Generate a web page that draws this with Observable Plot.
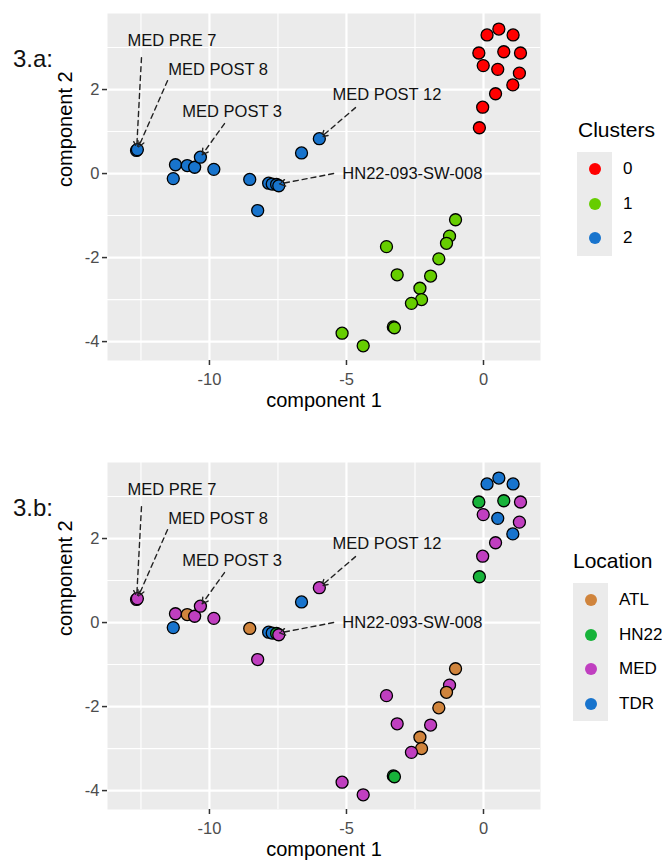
<!DOCTYPE html>
<html><head><meta charset="utf-8">
<script src="https://cdn.jsdelivr.net/npm/d3@7"></script>
<script src="https://cdn.jsdelivr.net/npm/@observablehq/plot@0.6"></script>
<style>
html,body{margin:0;padding:0;background:#fff;overflow:hidden;}
body{width:662px;height:864px;position:relative;font-family:"Liberation Sans",Arial,Helvetica,sans-serif;color:#000;}
.sec{position:absolute;left:0;width:662px;height:449px;overflow:hidden;}
.sec svg{position:absolute;left:0;top:0;}
.tag{position:absolute;left:13px;top:47px;font-size:24px;line-height:1;color:#111;white-space:nowrap;}
.ltitle{position:absolute;font-size:21px;line-height:1;white-space:nowrap;}
.keys{position:absolute;width:35px;background:#EBEBEB;}
.row{position:absolute;height:34px;line-height:34px;font-size:17px;white-space:nowrap;}
.dotk{position:absolute;width:12px;height:12px;border-radius:50%;}
</style></head><body>
<script>
// ---- data ----
const comp1 = [-12.66,-12.63,-11.32,-11.24,-10.81,-10.54,-10.33,-9.84,-8.53,-8.24,-7.84,-7.71,-7.55,-7.47,-6.64,-5.99,
  -1.02,-1.24,-1.35,-1.63,-3.54,-3.15,-1.93,-2.32,-2.26,-2.63,-3.29,-3.25,-5.16,-4.39,
  0.56,0.13,1.08,-0.17,0.74,1.35,-0.01,0.52,1.31,1.07,0.44,-0.03,-0.15];
const comp2 = [0.55,0.57,-0.12,0.21,0.19,0.15,0.39,0.10,-0.14,-0.88,-0.23,-0.25,-0.26,-0.29,0.49,0.83,
  -1.10,-1.49,-1.66,-2.03,-1.74,-2.41,-2.44,-2.73,-3.00,-3.09,-3.65,-3.67,-3.80,-4.10,
  3.44,3.30,3.30,2.87,2.90,2.87,2.57,2.48,2.39,2.11,1.90,1.58,1.09];
const clusterOf = ["2","2","2","2","2","2","2","2","2","2","2","2","2","2","2","2",
  "1","1","1","1","1","1","1","1","1","1","1","1","1","1",
  "0","0","0","0","0","0","0","0","0","0","0","0","0"];
const siteOf = ["MED","MED","TDR","MED","ATL","MED","MED","MED","ATL","MED","TDR","TDR","HN22","MED","TDR","MED",
  "ATL","MED","ATL","ATL","MED","MED","MED","ATL","ATL","MED","HN22","HN22","MED","MED",
  "TDR","TDR","TDR","HN22","HN22","MED","MED","TDR","MED","TDR","MED","MED","HN22"];

const clusterCats = ["0","1","2"];
const clusterColors = ["#FF0000","#66CD00","#1874CD"];
const siteCats = ["ATL","HN22","MED","TDR"];
const siteColors = ["#D0843C","#17B33A","#C03FC0","#1874CD"];

// labelled samples (ggrepel-style label positions, in data units)
const labelName = ["MED PRE 7","MED POST 8","MED POST 3","MED POST 12","HN22-093-SW-008"];
const labelPoint = [0,1,6,15,12];
const labelX = [-12.99,-11.50,-10.99,-5.51,-5.15];
const labelY = [3.17,2.48,1.48,1.88,0.0];
const segX = [-12.48,-11.53,-9.45,-4.67,-5.47];
const segY = [2.76,2.21,1.19,1.57,0.0];

const xDomain = [-13.72, 2.08];
const yDomain = [-4.45, 3.81];
const xMajor = [-10,-5,0];
const xMinor = [-12.5,-7.5,-2.5];
const yMajor = [-4,-2,0,2];
const yMinor = [-3,-1,1,3];
const xTitle = "component 1";
const yTitle = "component 2";

const FONT = "'Liberation Sans', Arial, Helvetica, sans-serif";

function panel(field, cats, colors) {
  const data = comp1.map((x, i) => ({x, y: comp2[i], c: field[i]}));
  const labels = labelName.map((n, i) => ({
    n, lx: labelX[i], ly: labelY[i], sx: segX[i], sy: segY[i],
    px: comp1[labelPoint[i]], py: comp2[labelPoint[i]]
  }));
  return Plot.plot({
    width: 662, height: 417,
    marginLeft: 107, marginRight: 122, marginTop: 13, marginBottom: 57,
    x: {domain: xDomain},
    y: {domain: yDomain},
    color: {domain: cats, range: colors},
    style: {fontFamily: FONT, background: "white", color: "#000"},
    marks: [
      Plot.frame({fill: "#EBEBEB", stroke: "none"}),
      Plot.gridX(xMinor, {stroke: "#fff", strokeOpacity: 1, strokeWidth: 1.1}),
      Plot.gridY(yMinor, {stroke: "#fff", strokeOpacity: 1, strokeWidth: 1.1}),
      Plot.gridX(xMajor, {stroke: "#fff", strokeOpacity: 1, strokeWidth: 2.2}),
      Plot.gridY(yMajor, {stroke: "#fff", strokeOpacity: 1, strokeWidth: 2.2}),
      Plot.axisX(xMajor, {tickSize: 5, tickPadding: 8, fontSize: 16.5, fill: "#4D4D4D", stroke: "#333", strokeWidth: 1.5, tickFormat: d => String(d), label: null}),
      Plot.axisY(yMajor, {tickSize: 5, tickPadding: 3, fontSize: 16.5, fill: "#4D4D4D", stroke: "#333", strokeWidth: 1.5, tickFormat: d => String(d), label: null}),
      Plot.text([xTitle], {frameAnchor: "bottom", dy: 46, fontSize: 20, fill: "#000"}),
      Plot.text([yTitle], {frameAnchor: "left", dx: -42, rotate: -90, fontSize: 20, fill: "#000"}),
      Plot.dot(data, {x: "x", y: "y", fill: "c", stroke: "#000", strokeWidth: 1.3, r: 6}),
      Plot.arrow(labels, {x1: "sx", y1: "sy", x2: "px", y2: "py", stroke: "#222", strokeWidth: 1.4, strokeDasharray: "5,4", headLength: 7, insetEnd: 3}),
      Plot.text(labels, {x: "lx", y: "ly", text: "n", textAnchor: "start", fontSize: 16.5, fill: "#111"})
    ]
  });
}

function section(top, tag, field, cats, colors, title, leg) {
  const sec = document.createElement("div");
  sec.className = "sec";
  sec.style.top = top + "px";
  const chart = panel(field, cats, colors);
  sec.appendChild(chart);
  const t = document.createElement("div");
  t.className = "tag"; t.textContent = tag;
  sec.appendChild(t);
  const sc = chart.scale("color");
  const lt = document.createElement("div");
  lt.className = "ltitle"; lt.textContent = title;
  lt.style.left = leg.titleX + "px"; lt.style.top = leg.titleY + "px";
  sec.appendChild(lt);
  const keys = document.createElement("div");
  keys.className = "keys";
  keys.style.left = leg.keyX + "px"; keys.style.top = leg.keyY + "px";
  keys.style.height = (cats.length * 34.5) + "px";
  sec.appendChild(keys);
  cats.forEach((c, i) => {
    const d = document.createElement("div");
    d.className = "dotk";
    d.style.background = sc.apply(c);
    d.style.left = (leg.keyX + 11.5) + "px";
    d.style.top = (leg.keyY + i * 34.5 + 11) + "px";
    sec.appendChild(d);
    const r = document.createElement("div");
    r.className = "row"; r.textContent = c;
    r.style.left = leg.labelX + "px";
    r.style.top = (leg.keyY + i * 34.5) + "px";
    sec.appendChild(r);
  });
  document.body.appendChild(sec);
}

section(0, "3.a:", clusterOf, clusterCats, clusterColors, "Clusters",
  {titleX: 578, titleY: 119, keyX: 577, keyY: 152, labelX: 623});
section(449, "3.b:", siteOf, siteCats, siteColors, "Location",
  {titleX: 573, titleY: 101, keyX: 573, keyY: 134, labelX: 619});
</script>
</body></html>
